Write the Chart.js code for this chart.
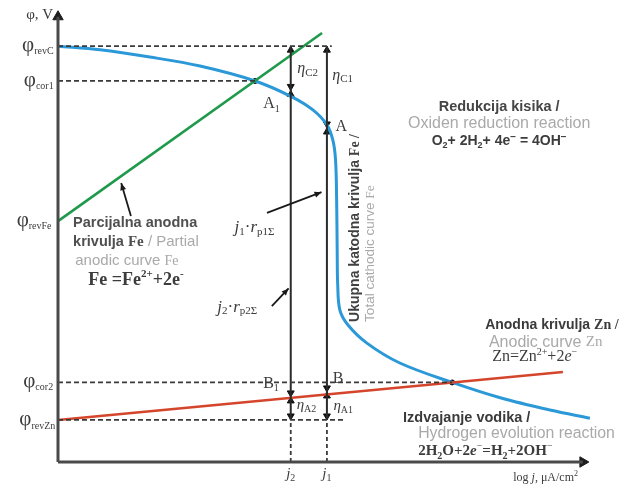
<!DOCTYPE html>
<html><head><meta charset="utf-8">
<script src="https://cdn.jsdelivr.net/npm/chart.js@4.4.1/dist/chart.umd.min.js"></script>
<style>html,body{margin:0;padding:0;background:#fff;}canvas{display:block}</style>
</head><body>
<canvas id="c" width="621" height="486"></canvas>
<script>
// ---- data (arbitrary units: x = log j, y = φ) ----
const levelNames  = ['revC', 'cor1', 'revFe', 'cor2', 'revZn'];
const levelValues = [9.20, 8.43, 5.33, 1.76, 0.93];
const levelDashEnd = [5.07, 3.65, null, 7.30, 5.31];

const currentNames  = ['j2', 'j1'];
const currentValues = [4.31, 4.98];

const cathodicX = [0, 0.78, 1.70, 2.63, 3.65, 4.33, 4.72, 4.98, 5.09, 5.14, 5.16, 5.17, 5.18, 5.22, 5.37, 5.72, 6.33, 7.30, 8.19, 9.11, 9.85];
const cathodicY = [9.20, 9.12, 8.96, 8.76, 8.43, 8.08, 7.79, 7.46, 7.12, 6.68, 5.80, 4.69, 3.92, 3.36, 3.03, 2.63, 2.19, 1.76, 1.42, 1.15, 0.97];

const anodicFeX = [0, 4.89];
const anodicFeY = [5.33, 9.49];
const anodicZnX = [0, 9.35];
const anodicZnY = [0.93, 1.99];

const corrX = [3.65, 7.30];
const corrY = [8.43, 1.76];

// hourglass points A1, B1 on j2 and A, B on j1
const pointNames = ['A1', 'B1', 'A', 'B'];
const pointX = [4.31, 4.31, 4.98, 4.98];
const pointY = [8.22, 1.44, 7.39, 1.55];

// ---- build datasets ----
const SERIF = '"Liberation Serif","Times New Roman",serif';
const SANS = '"Liberation Sans",Arial,sans-serif';
const AX = '#4a4a4a', DK = '#2b2b2b', GR = '#a9a9a9', TX = '#3c3c3c';
const yu = 1 / 45.2; // one pixel in y units (for marker offsets)

const pts = (xs, ys) => xs.map((x, i) => ({x, y: ys[i]}));
const line = (data, color, width, extra) => Object.assign({
  data, showLine: true, borderColor: color, borderWidth: width, pointRadius: 0,
  fill: false, clip: false, tension: 0
}, extra || {});

const datasets = [];
// axes
datasets.push(line([{x: 0, y: 0}, {x: 0, y: 9.85}], AX, 3));
datasets.push(line([{x: 0, y: 0}, {x: 9.72, y: 0}], AX, 3));
datasets.push({data: [{x: 0, y: 9.85}, {x: 9.72, y: 0}], showLine: false, pointStyle: 'triangle',
  pointRadius: 6, pointRotation: [0, 90], backgroundColor: '#1e1e1e', borderColor: '#1e1e1e', borderWidth: 1, clip: false});
// dashed level lines
levelValues.forEach((v, i) => {
  if (levelDashEnd[i] !== null)
    datasets.push(line([{x: 0, y: v}, {x: levelDashEnd[i], y: v}], '#3a3a3a', 1.8, {borderDash: [5, 3]}));
});
// current verticals
currentValues.forEach(x => {
  datasets.push(line([{x, y: levelValues[4]}, {x, y: levelValues[0]}], DK, 2));
  datasets.push(line([{x, y: 0}, {x, y: levelValues[4]}], '#3a3a3a', 1.8, {borderDash: [4, 3]}));
});
// curves
datasets.push(line(pts(anodicFeX, anodicFeY), '#1f9a4c', 2.6));
datasets.push(line(pts(anodicZnX, anodicZnY), '#d4452c', 2.6));
datasets.push(line(pts(cathodicX, cathodicY), '#2b98d8', 3, {tension: 0.35}));
// arrow markers
const mk = [], rot = [];
const r = 4;
currentValues.forEach(x => { mk.push({x, y: levelValues[0] - r * yu}); rot.push(0); });           // top arrows
pointX.forEach((x, i) => {
  mk.push({x, y: pointY[i] + r * yu}); rot.push(180);
  mk.push({x, y: pointY[i] - r * yu}); rot.push(0);
});
currentValues.forEach(x => { mk.push({x, y: levelValues[4] + r * yu}); rot.push(180); });         // bottom arrows
datasets.push({data: mk, showLine: false, pointStyle: 'triangle', pointRadius: r, pointRotation: rot,
  backgroundColor: '#111', borderColor: '#111', borderWidth: 1, clip: false});
// corrosion points
datasets.push({data: pts(corrX, corrY), showLine: false, pointStyle: 'circle', pointRadius: 2.5,
  backgroundColor: '#111', borderColor: '#111', clip: false});

// ---- text labels ----
const run = (t, f, color, dy) => [t, f, color || TX, dy || 0];
const S = (sz, w) => (w ? w + ' ' : '') + sz + 'px ' + SANS;
const R = (sz, w) => (w ? w + ' ' : '') + sz + 'px ' + SERIF;

const phi = (sub) => [run('φ', R(21)), run(sub, R(10), TX, 6)];
const labels = [
  {x: -0.09, y: 9.89, align: 'right', runs: [run('φ, V', R(15))]},
  {x: -0.08, y: 9.22, align: 'right', runs: phi('revC')},
  {x: -0.08, y: 8.45, align: 'right', runs: phi('cor1')},
  {x: -0.12, y: 5.35, align: 'right', runs: phi('revFe')},
  {x: -0.09, y: 1.78, align: 'right', runs: phi('cor2')},
  {x: -0.05, y: 0.93, align: 'right', runs: phi('revZn')},
  {x: 4.43, y: 8.70, runs: [run('η', R(16, 'italic')), run('C2', R(11), TX, 4)]},
  {x: 5.08, y: 8.55, runs: [run('η', R(16, 'italic')), run('C1', R(11), TX, 4)]},
  {x: 3.80, y: 7.92, runs: [run('A', R(16)), run('1', R(10), TX, 5)]},
  {x: 5.14, y: 7.41, runs: [run('A', R(16))]},
  {x: 3.80, y: 1.74, runs: [run('B', R(16)), run('1', R(10), TX, 5)]},
  {x: 5.09, y: 1.85, runs: [run('B', R(16))]},
  {x: 4.42, y: 1.26, runs: [run('η', R(15, 'italic')), run('A2', R(10), TX, 4)]},
  {x: 5.10, y: 1.24, runs: [run('η', R(15, 'italic')), run('A1', R(10), TX, 4)]},
  {x: 4.31, y: -0.27, align: 'center', runs: [run('j', R(15, 'italic')), run('2', R(10), TX, 4)]},
  {x: 4.98, y: -0.27, align: 'center', runs: [run('j', R(15, 'italic')), run('1', R(10), TX, 4)]},
  {x: 8.43, y: -0.36, runs: [run('log ', R(12)), run('j', R(12, 'italic')), run(', μA/cm', R(12)), run('2', R(8), TX, -4)]},
  {x: 3.27, y: 5.18, runs: [run('j', R(17, 'italic')), run('1', R(11), TX, 4), run('·', R(17)), run('r', R(17, 'italic')), run('p1Σ', R(11), TX, 4)]},
  {x: 2.95, y: 3.42, runs: [run('j', R(17, 'italic')), run('2', R(11), TX, 4), run('·', R(17)), run('r', R(17, 'italic')), run('p2Σ', R(11), TX, 4)]},
  // Fe anodic
  {x: 0.28, y: 5.29, runs: [run('Parcijalna anodna', S(14.5, 'bold'), '#4f4f4f')]},
  {x: 0.28, y: 4.86, runs: [run('krivulja ', S(14.5, 'bold'), '#4f4f4f'), run('Fe', R(15, 'bold'), '#4f4f4f'), run(' / Partial', S(15), GR)]},
  {x: 0.32, y: 4.45, runs: [run('anodic curve ', S(15), GR), run('Fe', R(14), GR)]},
  {x: 0.56, y: 4.03, runs: [run('Fe =Fe', R(18, 'bold')), run('2+', R(11, 'bold'), TX, -6), run('+2e', R(18, 'bold')), run('-', R(11, 'bold'), TX, -6)]},
  // oxygen reduction
  {x: 8.17, y: 7.85, align: 'center', runs: [run('Redukcija kisika /', S(14.5, 'bold'), '#454545')]},
  {x: 8.17, y: 7.48, align: 'center', runs: [run('Oxiden reduction reaction', S(16), GR)]},
  {x: 8.17, y: 7.10, align: 'center', runs: [run('O', S(14, 'bold')), run('2', S(9, 'bold'), TX, 4), run('+ 2H', S(14, 'bold')), run('2', S(9, 'bold'), TX, 4), run('+ 4e', S(14, 'bold')), run('−', S(10, 'bold'), TX, -4), run(' = 4OH', S(14, 'bold')), run('−', S(10, 'bold'), TX, -4)]},
  // Zn anodic
  {x: 7.91, y: 3.03, runs: [run('Anodna krivulja ', S(14, 'bold'), '#3a3a3a'), run('Zn /', R(14, 'bold'), '#3a3a3a')]},
  {x: 7.98, y: 2.65, runs: [run('Anodic curve ', S(16), GR), run('Zn', R(15), GR)]},
  {x: 8.04, y: 2.32, runs: [run('Zn=Zn', R(16)), run('2+', R(10), TX, -5), run('+2', R(16)), run('e', R(16, 'italic')), run('−', R(10), TX, -5)]},
  // hydrogen evolution
  {x: 6.39, y: 0.97, runs: [run('Izdvajanje vodika /', S(14.5, 'bold'), '#3a3a3a')]},
  {x: 6.67, y: 0.62, runs: [run('Hydrogen evolution reaction', S(15.8), GR)]},
  {x: 6.67, y: 0.24, runs: [run('2H', R(15, 'bold')), run('2', R(10, 'bold'), TX, 5), run('O+2', R(15, 'bold')), run('e', R(15, 'bold italic')), run('−', R(10), TX, -5), run('=H', R(15, 'bold')), run('2', R(10, 'bold'), TX, 5), run('+2OH', R(15, 'bold')), run('−', R(10), TX, -5)]},
  // rotated total cathodic
  {x: 5.50, y: 3.10, rot: -Math.PI / 2, runs: [run('Ukupna katodna krivulja ', S(14, 'bold'), '#404040'), run('Fe /', R(14, 'bold'), '#404040')]},
  {x: 5.79, y: 3.10, rot: -Math.PI / 2, runs: [run('Total cathodic curve ', S(13.5), GR), run('Fe', R(13.5), GR)]}
];

// pointer arrows [x0,y0,x1,y1] in data units
const pointers = [
  [3.87, 5.51, 4.88, 5.97],
  [3.96, 3.45, 4.27, 3.84],
  [1.35, 5.44, 1.17, 6.17]
];

const drawPlugin = {
  id: 'drawText',
  beforeDraw(chart) {
    const c = chart.ctx; c.save(); c.fillStyle = '#fff'; c.fillRect(0, 0, chart.width, chart.height); c.restore();
  },
  afterDatasetsDraw(chart) {
    const ctx = chart.ctx, sx = chart.scales.x, sy = chart.scales.y;
    ctx.save();
    pointers.forEach(([x0, y0, x1, y1]) => {
      const a = sx.getPixelForValue(x0), b = sy.getPixelForValue(y0);
      const cpx = sx.getPixelForValue(x1), cpy = sy.getPixelForValue(y1);
      ctx.strokeStyle = '#1a1a1a'; ctx.fillStyle = '#1a1a1a'; ctx.lineWidth = 1.8;
      ctx.beginPath(); ctx.moveTo(a, b); ctx.lineTo(cpx, cpy); ctx.stroke();
      const ang = Math.atan2(cpy - b, cpx - a), L = 7, W = 3;
      ctx.beginPath(); ctx.moveTo(cpx, cpy);
      ctx.lineTo(cpx - L * Math.cos(ang) + W * Math.sin(ang), cpy - L * Math.sin(ang) - W * Math.cos(ang));
      ctx.lineTo(cpx - L * Math.cos(ang) - W * Math.sin(ang), cpy - L * Math.sin(ang) + W * Math.cos(ang));
      ctx.closePath(); ctx.fill();
    });
    ctx.textBaseline = 'middle';
    labels.forEach(lb => {
      const px = sx.getPixelForValue(lb.x), py = sy.getPixelForValue(lb.y);
      let total = 0;
      lb.runs.forEach(rn => { ctx.font = rn[1]; total += ctx.measureText(rn[0]).width; });
      let start = 0;
      if (lb.align === 'right') start = -total; else if (lb.align === 'center') start = -total / 2;
      ctx.save(); ctx.translate(px, py); if (lb.rot) ctx.rotate(lb.rot);
      ctx.textAlign = 'left';
      let cx = start;
      lb.runs.forEach(rn => {
        ctx.font = rn[1]; ctx.fillStyle = rn[2];
        ctx.fillText(rn[0], cx, rn[3]);
        cx += ctx.measureText(rn[0]).width;
      });
      ctx.restore();
    });
    ctx.restore();
  }
};

new Chart(document.getElementById('c'), {
  type: 'scatter',
  data: {datasets},
  options: {
    responsive: false, animation: false, events: [],
    layout: {padding: {left: 58, right: 23, top: 10, bottom: 24}},
    scales: {
      x: {type: 'linear', min: 0, max: 10, display: false},
      y: {type: 'linear', min: 0, max: 10, display: false}
    },
    plugins: {legend: {display: false}, tooltip: {enabled: false}}
  },
  plugins: [drawPlugin]
});
</script>
</body></html>
